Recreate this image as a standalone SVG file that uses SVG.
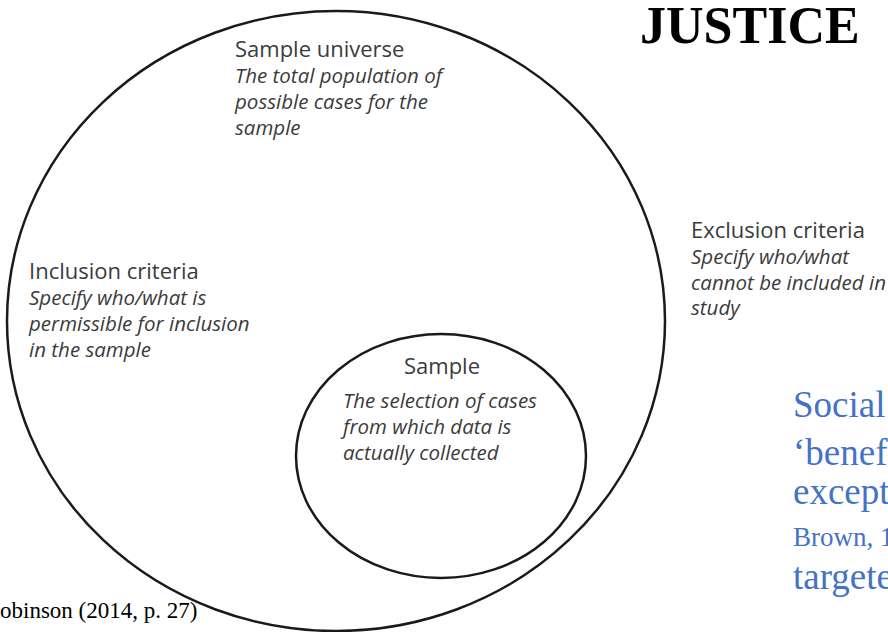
<svg xmlns="http://www.w3.org/2000/svg" width="888" height="632" viewBox="0 0 888 632">
<style>
.ring{fill:none;stroke:#1a1a1a;stroke-width:2.5}
.h{font-family:"Open Sans","Liberation Sans",sans-serif;font-size:22px;fill:#3b3b3b}
.i{font-family:"Open Sans","Liberation Sans",sans-serif;font-size:20.5px;font-style:italic;fill:#3b3b3b}
.title{font-family:"Liberation Serif","Times New Roman",serif;font-weight:bold;font-size:52px;fill:#000}
.blue{font-family:"Liberation Serif","Times New Roman",serif;font-size:37px;fill:#4472C4}
.blue2{font-family:"Liberation Serif","Times New Roman",serif;font-size:27px;fill:#4472C4}
.cap{font-family:"Liberation Serif","Times New Roman",serif;font-size:23px;fill:#000}
</style>
<rect width="888" height="632" fill="#fff"/>
<text class="title" x="640" y="43">JUSTICE</text>
<g id="universe">
<ellipse class="ring" cx="336" cy="321" rx="329" ry="310"/>
<text class="h" x="235" y="57">Sample universe</text>
<text class="i" x="235" y="83">The total population of</text>
<text class="i" x="235" y="109">possible cases for the</text>
<text class="i" x="235" y="135">sample</text>
</g>
<g id="inclusion">
<text class="h" x="29" y="279">Inclusion criteria</text>
<text class="i" x="29" y="305">Specify who/what is</text>
<text class="i" x="29" y="331">permissible for inclusion</text>
<text class="i" x="29" y="357">in the sample</text>
</g>
<g id="exclusion">
<text class="h" x="691" y="238">Exclusion criteria</text>
<text class="i" x="691" y="264">Specify who/what</text>
<text class="i" x="691" y="290">cannot be included in</text>
<text class="i" x="691" y="315">study</text>
</g>
<g id="sample">
<ellipse class="ring" cx="441" cy="456" rx="145" ry="122"/>
<text class="h" x="442" y="374" text-anchor="middle">Sample</text>
<text class="i" x="343" y="408">The selection of cases</text>
<text class="i" x="343" y="434">from which data is</text>
<text class="i" x="343" y="460">actually collected</text>
</g>
<g id="notes">
<text class="blue" x="793" y="417">Social</text>
<text class="blue" x="793" y="465">‘benef</text>
<text class="blue" x="793" y="504">except</text>
<text class="blue2" x="793" y="546">Brown, 1</text>
<text class="blue" x="793" y="589">targete</text>
<text class="cap" x="0" y="618">obinson (2014, p. 27)</text>
</g>
<g id="connectors"/>
</svg>
